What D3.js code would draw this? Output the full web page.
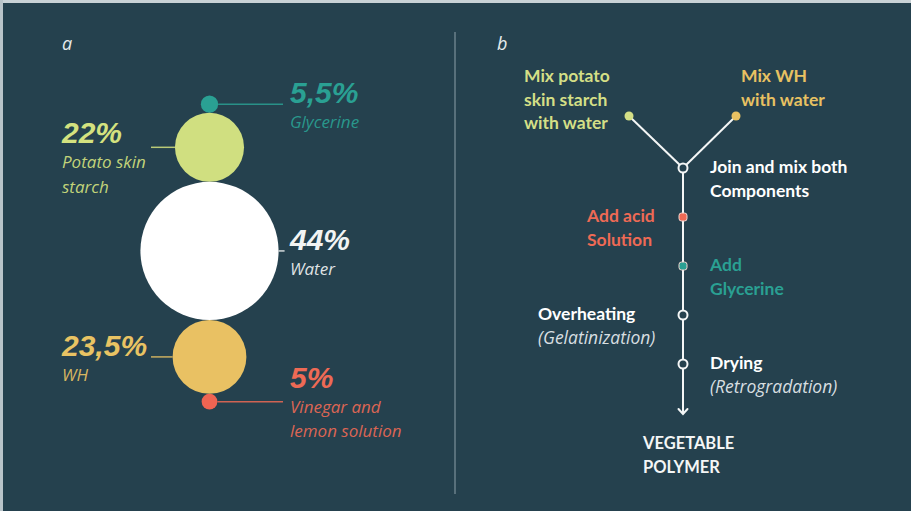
<!DOCTYPE html>
<html><head><meta charset="utf-8">
<script src="https://cdn.jsdelivr.net/npm/d3@7"></script>
<style>
html,body{margin:0;padding:0;background:#25414e;overflow:hidden}
svg{display:block}
</style></head>
<body>
<svg id="chart" width="911" height="511"></svg>
<script>
// ---- Data ----
const ingredients = ["Glycerine", "Potato skin starch", "Water", "WH", "Vinegar and lemon solution"];
const percentages = [5.5, 22, 44, 23.5, 5];
const percentLabels = ["5,5%", "22%", "44%", "23,5%", "5%"];
const labelLines = [["Glycerine"], ["Potato skin", "starch"], ["Water"], ["WH"], ["Vinegar and", "lemon solution"]];
const labelSides = ["right", "left", "right", "left", "right"];
const ingredientColors = ["#2aa093", "#d0df80", "#ffffff", "#e9c163", "#ef6452"];
const ingredientTextColors = ["#2aa093", "#d4e27f", "#f2f4f4", "#e9c363", "#ee6a55"];

const branchSteps = [["Mix potato", "skin starch", "with water"], ["Mix WH", "with water"]];
const branchColors = ["#d4df86", "#e8c162"];
const flowSteps = [
  ["Join and mix both", "Components"],
  ["Add acid", "Solution"],
  ["Add", "Glycerine"],
  ["Overheating"],
  ["Drying"]
];
const flowNotes = ["", "", "", "(Gelatinization)", "(Retrogradation)"];
const flowSides = ["right", "left", "right", "left", "right"];
const flowColors = ["#ffffff", "#ee6a55", "#2aa093", "#ffffff", "#ffffff"];
const flowNodeTypes = ["ring", "dot", "dot", "ring", "ring"];
const finalProduct = ["VEGETABLE", "POLYMER"];

// ---- Setup ----
const svg = d3.select("#chart");
const bg = "#25414e";
svg.append("rect").attr("width", 911).attr("height", 511).attr("fill", bg);
svg.append("rect").attr("width", 911).attr("height", 3).attr("fill", "#c9d2d6");
svg.append("rect").attr("width", 3).attr("height", 511).attr("fill", "#b9c4c9");

svg.append("line").attr("x1", 455).attr("x2", 455).attr("y1", 32).attr("y2", 494)
  .attr("stroke", "#8da0a8").attr("stroke-width", 1);

const italicFont = "'Open Sans', sans-serif";
const pctFont = "'Liberation Sans', Arial, sans-serif";
const boldFont = "Lato, 'Open Sans', sans-serif";

svg.append("text").attr("x", 62).attr("y", 50).text("a")
  .attr("font-family", italicFont).attr("font-style", "italic").attr("font-size", 18).attr("fill", "#e6ebec");
svg.append("text").attr("x", 497).attr("y", 50).text("b")
  .attr("font-family", italicFont).attr("font-style", "italic").attr("font-size", 18).attr("fill", "#e6ebec");

// ---- Panel a: stacked circles ----
const cx = 209.5;
const rScale = d3.scaleLinear().domain([0, 100]).range([0, 157]);
const topY = 95.5;
let acc = topY;
const nodes = percentages.map((v, i) => {
  const r = rScale(v);
  const cy = acc + r;
  acc += 2 * r;
  return { i, v, r, cy };
});

const gA = svg.append("g");
gA.selectAll("circle").data(nodes).join("circle")
  .attr("cx", cx).attr("cy", d => d.cy).attr("r", d => d.r)
  .attr("fill", d => ingredientColors[d.i]);

// label layout (offsets relative to leader line)
const pctDy = [-1, -4, -1, -1, -14];
const lblGap = 25;
const lineH = 24.5;
const rightX = 290, leftX = 62;

nodes.forEach(d => {
  const side = labelSides[d.i];
  const col = ingredientTextColors[d.i];
  const y = d.cy;
  let x1, x2, tx;
  if (side === "right") {
    x1 = cx + d.r; x2 = d.i === 2 ? cx + d.r + 6 : 283; tx = rightX;
  } else {
    x1 = 151; x2 = cx - d.r; tx = leftX;
  }
  gA.append("line").attr("x1", x1).attr("x2", x2).attr("y1", y).attr("y2", y)
    .attr("stroke", col).attr("stroke-width", 1.5).attr("opacity", 0.85);
  const base = y + pctDy[d.i];
  gA.append("text").attr("x", tx).attr("y", base).text(percentLabels[d.i])
    .attr("font-family", pctFont).attr("font-style", "italic").attr("font-weight", 700)
    .attr("font-size", 30).attr("fill", col);
  labelLines[d.i].forEach((s, k) => {
    gA.append("text").attr("x", tx).attr("y", base + lblGap + k * lineH).text(s)
      .attr("font-family", italicFont).attr("font-style", "italic")
      .attr("font-size", 17).attr("fill", col).attr("fill-opacity", 0.92);
  });
});

// ---- Panel b: process flow ----
const gB = svg.append("g");
const mainX = 683;
const yFlow = d3.scaleLinear().domain([0, 4]).range([168, 364]);
const branchX = d3.scaleLinear().domain([0, 1]).range([629, 736]);
const branchY = 116;
const endY = 414;
const lineColor = "#f4f6f6";
const fs = 17.5;

branchSteps.forEach((s, i) => {
  gB.append("line").attr("x1", branchX(i)).attr("y1", branchY).attr("x2", mainX).attr("y2", yFlow(0))
    .attr("stroke", lineColor).attr("stroke-width", 2);
});
gB.append("line").attr("x1", mainX).attr("x2", mainX).attr("y1", yFlow(0)).attr("y2", endY)
  .attr("stroke", lineColor).attr("stroke-width", 2);
gB.append("path")
  .attr("d", `M${mainX - 4.5},${endY - 5} L${mainX},${endY} L${mainX + 4.5},${endY - 5}`)
  .attr("fill", "none").attr("stroke", lineColor).attr("stroke-width", 2).attr("stroke-linecap", "round");

branchSteps.forEach((s, i) => {
  gB.append("circle").attr("cx", branchX(i)).attr("cy", branchY).attr("r", 4.5)
    .attr("fill", branchColors[i]);
  const tx = i === 0 ? 524 : 741;
  s.forEach((t, k) => {
    gB.append("text").attr("x", tx).attr("y", 82 + k * 23.5).text(t)
      .attr("font-family", boldFont).attr("font-weight", 700).attr("font-size", fs)
      .attr("fill", branchColors[i]);
  });
});

flowSteps.forEach((lines, i) => {
  const y = yFlow(i);
  if (flowNodeTypes[i] === "ring") {
    gB.append("circle").attr("cx", mainX).attr("cy", y).attr("r", 4.5)
      .attr("fill", bg).attr("stroke", lineColor).attr("stroke-width", 2);
  } else {
    gB.append("rect").attr("x", mainX - 4).attr("y", y - 4).attr("width", 8).attr("height", 8)
      .attr("rx", 2.5).attr("fill", flowColors[i]).attr("stroke", "#f3d6d0").attr("stroke-width", 1);
  }
  const side = flowSides[i];
  let tx;
  if (side === "right") tx = 710;
  else tx = flowNotes[i] ? 538 : 587;
  const col = flowColors[i];
  let k = 0;
  lines.forEach(t => {
    gB.append("text").attr("x", tx).attr("y", y + 5 + k * 23.5).text(t)
      .attr("font-family", boldFont).attr("font-weight", 700).attr("font-size", fs)
      .attr("fill", col);
    k++;
  });
  if (flowNotes[i]) {
    gB.append("text").attr("x", tx).attr("y", y + 5 + k * 23.5).text(flowNotes[i])
      .attr("font-family", italicFont).attr("font-style", "italic").attr("font-size", 17.5)
      .attr("fill", "#d8dfe1");
  }
});

finalProduct.forEach((t, k) => {
  gB.append("text").attr("x", 643).attr("y", 449 + k * 23.5).text(t)
    .attr("font-family", boldFont).attr("font-weight", 700).attr("font-size", 16.5)
    .attr("fill", "#f4f6f6");
});
</script>
</body></html>
